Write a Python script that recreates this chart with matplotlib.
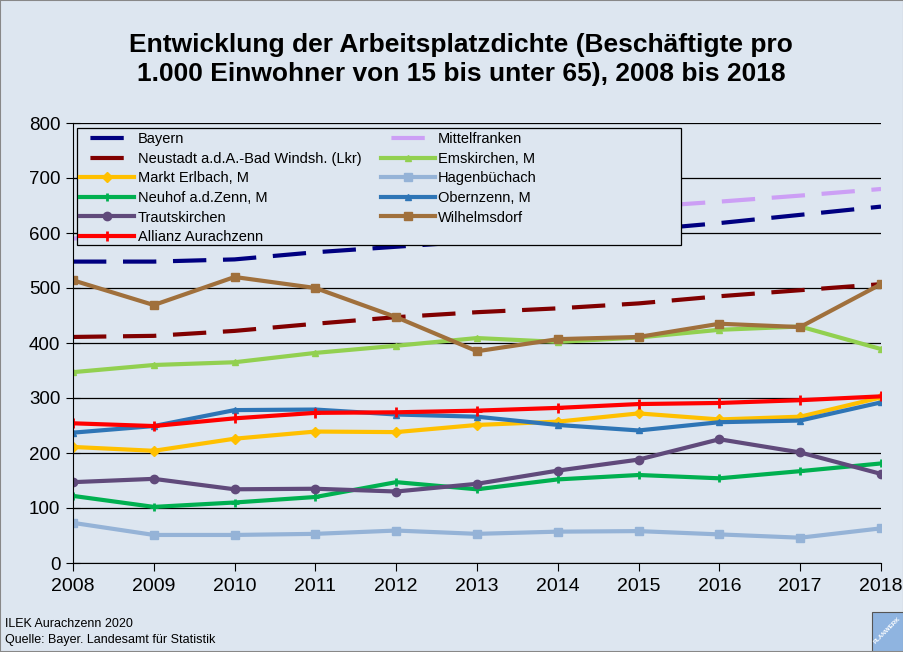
import matplotlib.pyplot as plt
from matplotlib.lines import Line2D
from matplotlib.patches import Rectangle

years = list(range(2008, 2019))

bayern = [548, 548, 552, 565, 575, 585, 595, 605, 618, 633, 648]
mittelfranken = [590, 595, 600, 608, 615, 625, 635, 647, 657, 668, 680]
neustadt = [411, 413, 422, 435, 447, 456, 463, 472, 485, 496, 507]
emskirchen = [347, 360, 365, 382, 395, 409, 402, 410, 424, 430, 389]
markt_erlbach = [211, 204, 226, 239, 238, 251, 257, 272, 261, 266, 301]
hagenbuechach = [73, 51, 51, 53, 59, 53, 57, 58, 52, 46, 63]
neuhof = [122, 102, 110, 120, 147, 134, 152, 160, 154, 167, 181]
obernzenn = [237, 249, 278, 279, 270, 266, 251, 241, 256, 259, 292]
trautskirchen = [147, 153, 134, 135, 130, 144, 168, 188, 225, 201, 162]
wilhelmsdorf = [514, 469, 520, 500, 447, 385, 407, 411, 435, 429, 507]
allianz = [254, 249, 263, 273, 274, 277, 282, 289, 291, 296, 303]

bg = "#dde6f0"
plt.rcParams["font.family"] = ["Liberation Sans", "DejaVu Sans"]

fig = plt.figure(figsize=(9.04, 6.52), dpi=100, facecolor=bg)
ax = fig.add_axes([73 / 904, 1 - 563 / 652, 808 / 904, 440 / 652])
ax.set_facecolor(bg)

lw = 3
h = {}
dashed = [("Bayern", bayern, "#000080"),
          ("Mittelfranken", mittelfranken, "#cc9ff5"),
          ("Neustadt a.d.A.-Bad Windsh. (Lkr)", neustadt, "#800000")]
for name, vals, col in dashed:
    ax.plot(years, vals, color=col, lw=lw, dashes=(8, 4))
    # legend shows a single centred dash
    h[name] = Line2D([], [], color=col, lw=lw, linestyle=(9.5, (8, 4)))

h["Emskirchen, M"], = ax.plot(years, emskirchen, color="#92d050", lw=lw, marker="^", ms=5)
h["Hagenbüchach"], = ax.plot(years, hagenbuechach, color="#95b3d7", lw=lw, marker="s", ms=6)
h["Neuhof a.d.Zenn, M"], = ax.plot(years, neuhof, color="#00b050", lw=lw, marker="+", ms=6, mew=2)
h["Trautskirchen"], = ax.plot(years, trautskirchen, color="#604a7b", lw=lw, marker="o", ms=6)
h["Markt Erlbach, M"], = ax.plot(years, markt_erlbach, color="#ffc000", lw=lw, marker="D", ms=5)
h["Obernzenn, M"], = ax.plot(years, obernzenn, color="#2e75b6", lw=lw, marker="^", ms=5)
h["Allianz Aurachzenn"], = ax.plot(years, allianz, color="#ff0000", lw=lw, marker="+", ms=7, mew=2)
h["Wilhelmsdorf"], = ax.plot(years, wilhelmsdorf, color="#a0703c", lw=lw, marker="s", ms=6)

ax.set_xlim(2008, 2018)
ax.set_ylim(0, 800)
ax.set_xticks(years)
ax.set_yticks(range(0, 801, 100))
ax.grid(axis="y", color="black", lw=0.9)
ax.set_axisbelow(True)
for s in ["top", "right"]:
    ax.spines[s].set_visible(False)
ax.tick_params(axis="x", direction="out", length=6, labelsize=14, pad=5)
ax.tick_params(axis="y", direction="inout", length=10, labelsize=13.5, pad=4)

order = ["Bayern", "Neustadt a.d.A.-Bad Windsh. (Lkr)", "Markt Erlbach, M",
         "Neuhof a.d.Zenn, M", "Trautskirchen", "Allianz Aurachzenn",
         "Mittelfranken", "Emskirchen, M", "Hagenbüchach", "Obernzenn, M",
         "Wilhelmsdorf"]
leg = ax.legend([h[k] for k in order], order, ncol=2, loc="upper left",
                bbox_to_anchor=(3 / 808, 1 - 5 / 440), fontsize=10.5,
                frameon=False, labelspacing=0.38,
                handlelength=3.7, handletextpad=0.25, columnspacing=1.3,
                borderpad=0.3, borderaxespad=0)
# legend box drawn at the fixed size of the original
ax.add_patch(Rectangle((4 / 808, 1 - 122 / 440), 604 / 808, 117 / 440,
                       transform=ax.transAxes, facecolor=bg, edgecolor="black",
                       lw=0.9, zorder=4.9))
leg.set_zorder(5)

fig.text(0.51, 1 - 45 / 652, "Entwicklung der Arbeitsplatzdichte (Beschäftigte pro",
         ha="center", va="center", fontsize=19, fontweight="bold")
fig.text(0.51, 1 - 74 / 652, "1.000 Einwohner von 15 bis unter 65), 2008 bis 2018",
         ha="center", va="center", fontsize=19, fontweight="bold")

fig.text(5 / 904, 1 - 624 / 652, "ILEK Aurachzenn 2020", fontsize=9, va="center")
fig.text(5 / 904, 1 - 640 / 652, "Quelle: Bayer. Landesamt für Statistik", fontsize=9,
         va="center")

# small logo in the lower right corner
fig.patches.append(Rectangle((872 / 904, 0), 32 / 904, 40 / 652, transform=fig.transFigure,
                             facecolor="#8fb4e0", edgecolor="#555555", lw=0.8))
fig.text(887 / 904, 22 / 652, "PLANWERK", rotation=45, fontsize=4.5, fontweight="bold",
         ha="center", va="center", color="white")

fig.patches.append(Rectangle((0, 0), 1, 1, transform=fig.transFigure, fill=False,
                             edgecolor="#888888", lw=1.5))

fig.savefig("out.png", dpi=100, facecolor=bg)
